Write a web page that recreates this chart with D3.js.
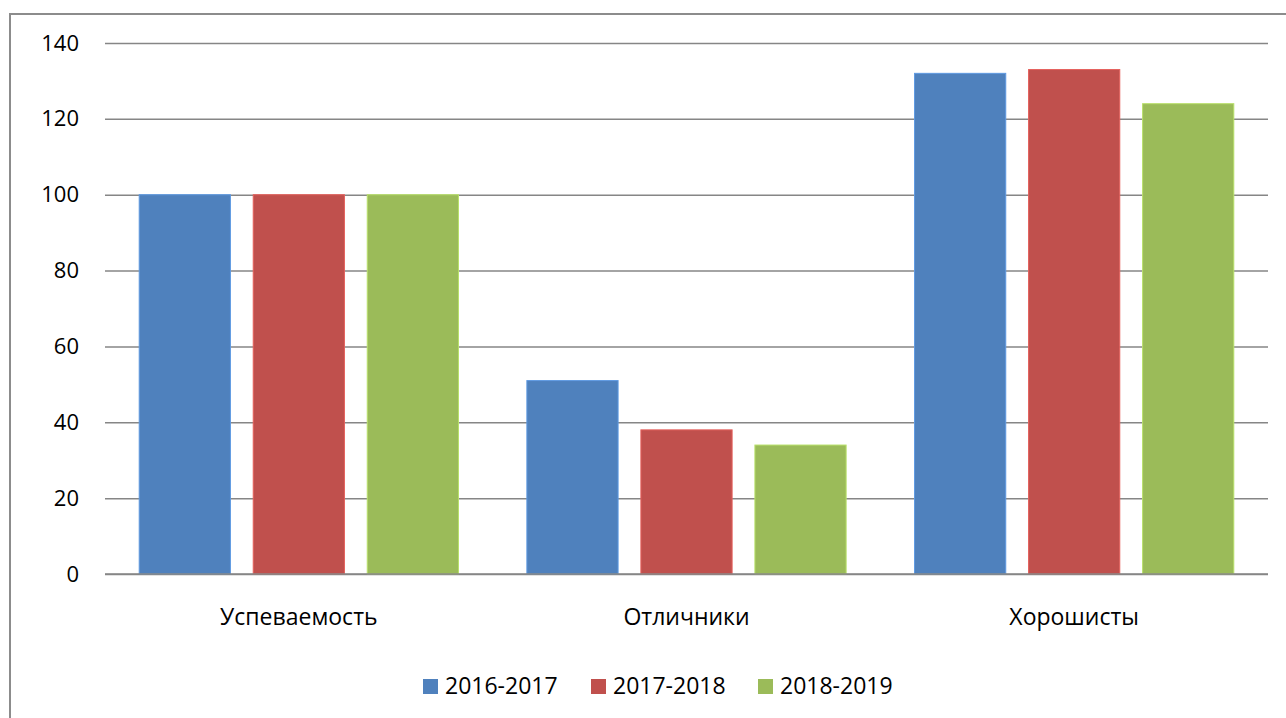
<!DOCTYPE html>
<html>
<head>
<meta charset="utf-8">
<script src="https://cdn.jsdelivr.net/npm/d3@7"></script>
<style>
  html, body { margin: 0; padding: 0; background: #fff; }
  svg { display: block; }
</style>
</head>
<body>
<svg id="chart"></svg>
<script>
// chart data
const categories = ["Успеваемость", "Отличники", "Хорошисты"];
const seriesNames = ["2016-2017", "2017-2018", "2018-2019"];
const values2016 = [100, 51, 132];
const values2017 = [100, 38, 133];
const values2018 = [100, 34, 124];
const yTicks = [0, 20, 40, 60, 80, 100, 120, 140];
const colors = ["#4F81BD", "#C0504D", "#9BBB59"];

const seriesValues = [values2016, values2017, values2018];

const width = 1286, height = 718;
const font = "'Open Sans', 'Liberation Sans', sans-serif";

const plot = { left: 105, right: 1268, top: 43, bottom: 574 };

const svg = d3.select("#chart")
    .attr("width", width)
    .attr("height", height)
    .style("font-family", font);

// chart area frame (runs past the right/bottom edge like the original)
svg.append("rect")
    .attr("x", 10).attr("y", 14)
    .attr("width", 1300).attr("height", 730)
    .attr("fill", "none")
    .attr("stroke", "#8c8c8c")
    .attr("stroke-width", 2);

const x0 = d3.scaleBand(categories, [plot.left, plot.right])
    .paddingInner(0).paddingOuter(0);
const x1 = d3.scaleBand(d3.range(seriesNames.length), [0, x0.bandwidth()])
    .paddingInner(0.2).paddingOuter(0.3);
const y = d3.scaleLinear([0, 140], [plot.bottom, plot.top]);

// gridlines + tick labels
const yAxis = d3.axisLeft(y)
    .tickValues(yTicks)
    .tickSize(-(plot.right - plot.left))
    .tickPadding(26);

svg.append("g")
    .attr("transform", `translate(${plot.left},0)`)
    .call(yAxis)
    .call(g => g.select(".domain").remove())
    .call(g => g.selectAll(".tick line")
        .attr("stroke", "#868686")
        .attr("stroke-width", 1.5))
    .call(g => g.selectAll(".tick text")
        .attr("fill", "#000")
        .attr("font-family", font)
        .attr("font-size", 22));

// bars
const groups = svg.append("g")
    .selectAll("g")
    .data(categories)
    .join("g")
      .attr("transform", d => `translate(${x0(d)},0)`);

groups.selectAll("rect")
    .data((d, i) => seriesValues.map((vals, s) => ({ s, v: vals[i] })))
    .join("rect")
      .attr("x", d => x1(d.s))
      .attr("y", d => y(d.v))
      .attr("width", x1.bandwidth())
      .attr("height", d => y(0) - y(d.v))
      .attr("fill", d => colors[d.s])
      .attr("stroke", d => d3.color(colors[d.s]).brighter(0.5))
      .attr("stroke-width", 1);

// redraw the zero line on top of bars
svg.append("line")
    .attr("x1", plot.left).attr("x2", plot.right)
    .attr("y1", y(0)).attr("y2", y(0))
    .attr("stroke", "#868686")
    .attr("stroke-width", 1.5);

// category labels
svg.append("g")
    .selectAll("text")
    .data(categories)
    .join("text")
      .attr("x", d => x0(d) + x0.bandwidth() / 2)
      .attr("y", 617)
      .attr("dy", "0.35em")
      .attr("text-anchor", "middle")
      .attr("font-size", 23)
      .text(d => d);

// legend
const legendX = [423, 591, 758];
const legend = svg.append("g")
    .selectAll("g")
    .data(seriesNames)
    .join("g")
      .attr("transform", (d, i) => `translate(${legendX[i]},686)`);

legend.append("rect")
    .attr("x", 0).attr("y", -7)
    .attr("width", 15).attr("height", 15)
    .attr("fill", (d, i) => colors[i]);

legend.append("text")
    .attr("x", 22)
    .attr("dy", "0.35em")
    .attr("font-size", 23)
    .text(d => d);
</script>
</body>
</html>
